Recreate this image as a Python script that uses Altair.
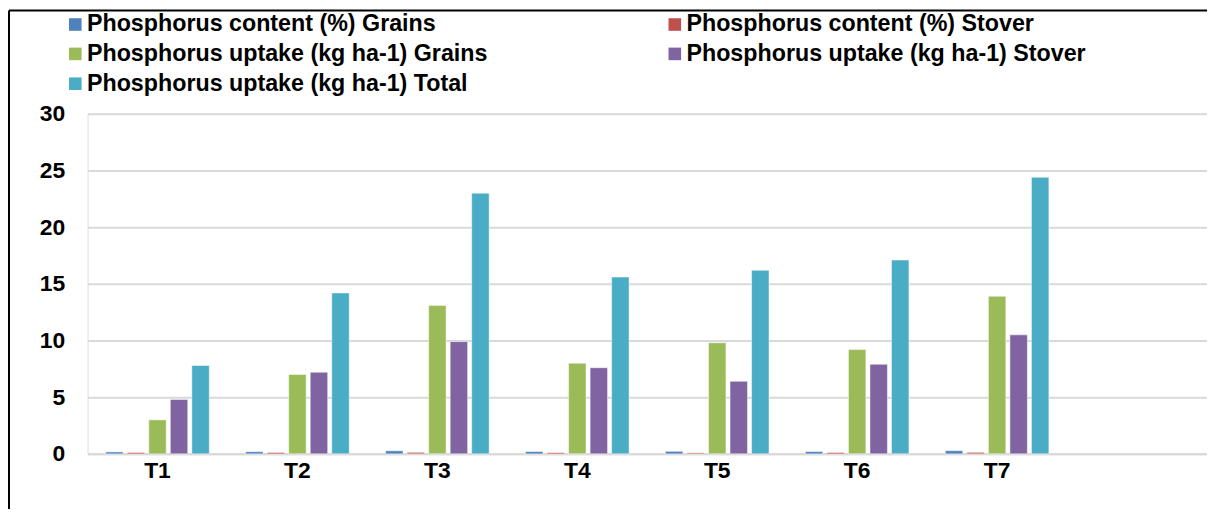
import altair as alt
import pandas as pd

treatments = ["T1", "T2", "T3", "T4", "T5", "T6", "T7"]
x_domain = treatments + [" "]
series = [
    "Phosphorus content (%) Grains",
    "Phosphorus content (%) Stover",
    "Phosphorus uptake (kg ha-1) Grains",
    "Phosphorus uptake (kg ha-1) Stover",
    "Phosphorus uptake (kg ha-1) Total",
]
colors = ["#4F81BD", "#C0504D", "#9BBB59", "#8064A2", "#4BACC6"]

content_grains = [0.17, 0.19, 0.27, 0.20, 0.22, 0.20, 0.28]
content_stover = [0.12, 0.12, 0.13, 0.11, 0.09, 0.12, 0.13]
uptake_grains = [3.0, 7.0, 13.1, 8.0, 9.8, 9.2, 13.9]
uptake_stover = [4.8, 7.2, 9.9, 7.6, 6.4, 7.9, 10.5]
uptake_total = [7.8, 14.2, 23.0, 15.6, 16.2, 17.1, 24.4]

values = [content_grains, content_stover, uptake_grains, uptake_stover, uptake_total]
rows = []
for s, vals in zip(series, values):
    for t, v in zip(treatments, vals):
        rows.append({"Treatment": t, "Series": s, "Value": v})
df = pd.DataFrame(rows)

# legend fills column by column: order entries so it reads row by row like the original
legend_order = [0, 2, 4, 1, 3]
legend_domain = [series[i] for i in legend_order]
legend_colors = [colors[i] for i in legend_order]

W, H = 1126, 342
FONT = "Liberation Sans"

bars = alt.Chart(df).mark_bar(stroke="white", strokeWidth=0.6, strokeOpacity=0.8).encode(
    x=alt.X("Treatment:N", scale=alt.Scale(domain=x_domain, paddingInner=0.26, paddingOuter=0.13),
            axis=alt.Axis(title=None, labelAngle=0, labelFont=FONT, labelFontWeight="bold",
                          labelFontSize=23, labelColor="black", labelPadding=6, ticks=False,
                          domainColor="#D9D9D9", domainWidth=2)),
    xOffset=alt.XOffset("Series:N", sort=series, scale=alt.Scale(paddingInner=0.19, paddingOuter=0)),
    y=alt.Y("Value:Q", scale=alt.Scale(domain=[0, 30], nice=False),
            axis=alt.Axis(title=None, values=[0, 5, 10, 15, 20, 25, 30], labelFont=FONT,
                          labelFontWeight="bold", labelFontSize=23, labelColor="black",
                          labelPadding=23, ticks=False, domain=False, gridColor="#D9D9D9",
                          gridWidth=2)),
    color=alt.Color("Series:N", scale=alt.Scale(domain=legend_domain, range=legend_colors),
                    legend=alt.Legend(orient="none", legendX=-24, legendY=-102, columns=2,
                                      columnPadding=176, rowPadding=5, symbolType="square",
                                      symbolSize=160, symbolStrokeWidth=0, symbolOpacity=1,
                                      labelFont=FONT, labelFontWeight="bold", labelFontSize=23.4,
                                      labelColor="black", labelLimit=0, labelOffset=0, title=None)),
)

border_left = alt.Chart(pd.DataFrame({"a": [0]})).mark_rule(color="black", strokeWidth=2).encode(
    x=alt.value(-79), y=alt.value(-104), y2=alt.value(H + 60)
)
border_top = alt.Chart(pd.DataFrame({"a": [0]})).mark_rule(color="black", strokeWidth=2).encode(
    x=alt.value(-79), x2=alt.value(W + 10), y=alt.value(-104)
)

chart = alt.layer(bars, border_left, border_top).properties(
    width=W, height=H,
    autosize=alt.AutoSizeParams(type="none"),
    padding={"left": 80, "top": 105, "right": 0, "bottom": 54},
).configure_view(stroke=None).configure(background="white")

chart.save("out.html", embed_options={"renderer": "svg", "actions": False})
